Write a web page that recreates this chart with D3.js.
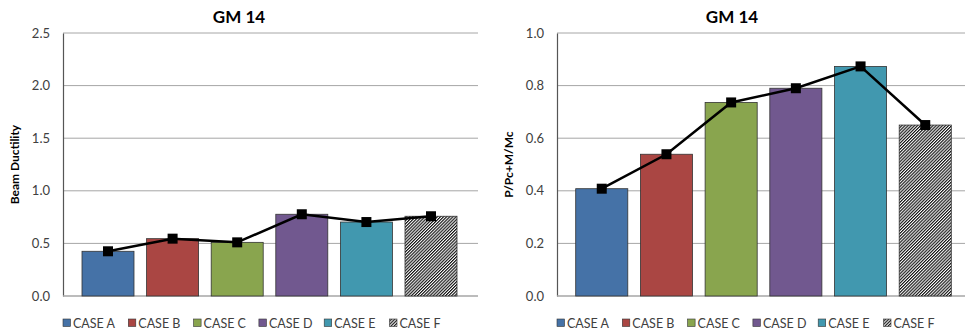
<!DOCTYPE html>
<html><head><meta charset="utf-8">
<script src="https://cdn.jsdelivr.net/npm/d3@7"></script>
<style>body{margin:0;background:#fff}svg{display:block}text{font-family:Lato,"Open Sans",sans-serif}</style>
</head><body><svg id="c" width="965" height="335"></svg>
<script>
const categories = ["CASE A","CASE B","CASE C","CASE D","CASE E","CASE F"];
const colors = ["#4572A7","#AA4643","#89A54E","#71588F","#4198AF","hatch"];
const ductility = [0.425, 0.545, 0.51, 0.777, 0.703, 0.758];
const interaction = [0.408, 0.539, 0.736, 0.79, 0.873, 0.65];
const ductTicks = [0, 0.5, 1.0, 1.5, 2.0, 2.5];
const interTicks = [0, 0.2, 0.4, 0.6, 0.8, 1.0];
const titles = ["GM 14","GM 14"];
const yLabels = ["Beam Ductility","P/Pc+M/Mc"];

(function(){
const svg = d3.select("#c");
const defs = svg.append("defs");
const pat = defs.append("pattern").attr("id","hatch").attr("patternUnits","userSpaceOnUse")
  .attr("width",2.2).attr("height",2.2).attr("patternTransform","rotate(45)");
pat.append("rect").attr("width",2.2).attr("height",2.2).attr("fill","#fff");
pat.append("rect").attr("width",1.15).attr("height",2.2).attr("fill","#111");

const charts = [
  {values: ductility, ticks: ductTicks, max: 2.5, title: titles[0], ylab: yLabels[0],
   left: 63, right: 478, bandL: 75.7, bandR: 463.3, titleX: 239, ylabX: 19, legX: 63},
  {values: interaction, ticks: interTicks, max: 1.0, title: titles[1], ylab: yLabels[1],
   left: 557, right: 965, bandL: 569.4, bandR: 957.6, titleX: 732, ylabX: 513, legX: 557}
];
const plotTop = 33, plotBottom = 296;
const fmt = d3.format(".1f");

charts.forEach(c => {
  const g = svg.append("g");
  const y = d3.scaleLinear().domain([0, c.max]).range([plotBottom, plotTop]);
  const x = d3.scaleBand().domain(categories).range([c.bandL, c.bandR]).paddingInner(0.195).paddingOuter(0.0975);
  g.selectAll(".grid").data(c.ticks.filter(t => t > 0)).enter().append("line")
    .attr("x1", c.left).attr("x2", c.right).attr("y1", d => y(d)).attr("y2", d => y(d))
    .attr("stroke","#a6a6a6").attr("stroke-width",1);
  const ax = g.append("g").attr("transform",`translate(${c.left},0)`)
    .call(d3.axisLeft(y).tickValues(c.ticks).tickFormat(fmt).tickSize(0).tickPadding(13));
  ax.select(".domain").attr("stroke","#555").attr("stroke-width",1.2);
  ax.selectAll("text").attr("font-size",13).attr("fill","#404040").attr("font-family","Lato, sans-serif");
  g.append("line").attr("x1", c.left).attr("x2", c.right).attr("y1", y(0)).attr("y2", y(0))
    .attr("stroke","#a6a6a6").attr("stroke-width",1.5);
  g.selectAll(".bar").data(c.values).enter().append("rect")
    .attr("x",(d,i)=>x(categories[i])).attr("width",x.bandwidth())
    .attr("y",d=>y(d)).attr("height",d=>y(0)-y(d))
    .attr("fill",(d,i)=>colors[i]==="hatch"?"url(#hatch)":colors[i])
    .attr("stroke","#333").attr("stroke-width",0.8);
  const line = d3.line().x((d,i)=>x(categories[i])+x.bandwidth()/2).y(d=>y(d));
  g.append("path").datum(c.values).attr("d",line).attr("fill","none").attr("stroke","#000").attr("stroke-width",2.5);
  g.selectAll(".mk").data(c.values).enter().append("rect")
    .attr("x",(d,i)=>x(categories[i])+x.bandwidth()/2-5).attr("y",d=>y(d)-5)
    .attr("width",10).attr("height",10).attr("fill","#000");
  g.append("text").attr("x",c.titleX).attr("y",23).attr("text-anchor","middle")
    .attr("font-size",17).attr("font-weight","bold").attr("fill","#000").text(c.title);
  g.append("text").attr("transform",`translate(${c.ylabX},${(plotTop+plotBottom)/2}) rotate(-90)`)
    .attr("text-anchor","middle").attr("font-size",12).attr("font-weight","bold").attr("fill","#000").text(c.ylab);
  const leg = g.selectAll(".leg").data(categories).enter().append("g")
    .attr("transform",(d,i)=>`translate(${c.legX + i*65.3},0)`);
  leg.append("rect").attr("x",0).attr("y",319).attr("width",7.5).attr("height",7.5)
    .attr("fill",(d,i)=>colors[i]==="hatch"?"url(#hatch)":colors[i]).attr("stroke","#333").attr("stroke-width",0.6);
  leg.append("text").attr("x",10).attr("y",327.5).attr("font-size",12.5).attr("fill","#404040").text(d=>d);
});
})();
</script></body></html>
